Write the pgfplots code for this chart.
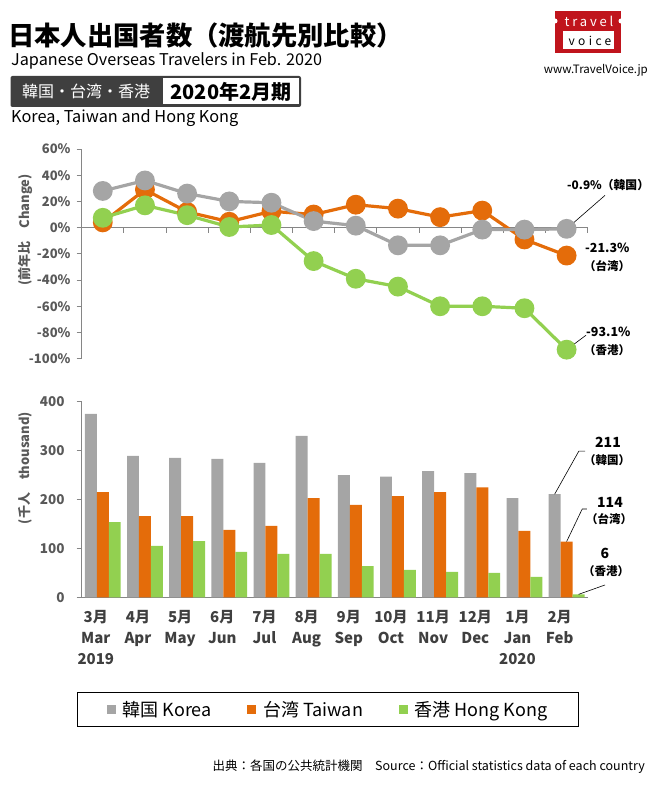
\documentclass[border=0pt]{standalone}
\usepackage{pgfplots}
\pgfplotsset{compat=1.18}
\usepackage{fontspec}
\setmainfont{Noto Sans CJK JP}
\definecolor{kr}{HTML}{A5A5A5}
\definecolor{tw}{HTML}{E46C0A}
\definecolor{hk}{HTML}{92D050}
\definecolor{axgray}{HTML}{868686}
\definecolor{tickgray}{HTML}{595959}
\definecolor{darkbox}{HTML}{3F3F3F}
\definecolor{logored}{HTML}{C0141C}
\begin{document}
\begin{tikzpicture}[x=1pt,y=1pt]
\useasboundingbox (0,0) rectangle (660,-791);
% ---------- header ----------
\node[anchor=west, inner sep=0pt, font=\bfseries\fontsize{26.3}{30}\selectfont] at (8,-36) {日本人出国者数（渡航先別比較）};
\node[anchor=west, inner sep=0pt, font=\fontsize{16.2}{18}\selectfont] at (11,-61) {Japanese Overseas Travelers in Feb. 2020};
\fill[darkbox, rounded corners=2pt] (10.5,-76) rectangle (301,-107);
\fill[white] (163,-78.5) rectangle (298.5,-104.5);
\node[text=white, inner sep=0pt, font=\fontsize{16}{18}\selectfont] at (86,-91.5) {韓国・台湾・香港};
\node[inner sep=0pt, font=\bfseries\fontsize{20}{22}\selectfont] at (231,-91.5) {2020年2月期};
\node[anchor=west, inner sep=0pt, font=\fontsize{16.3}{18}\selectfont] at (11,-118) {Korea, Taiwan and Hong Kong};
% ---------- logo ----------
\fill[logored] (555,-11) rectangle (621,-53);
\fill[white] (563,-31.5) rectangle (614,-49.5);
\fill[white] (555,-21) circle (2.5);
\fill[white] (621,-21) circle (2.5);
\node[text=white, inner sep=0pt, font=\fontsize{13}{13}\selectfont\addfontfeature{LetterSpace=22}] at (589,-21) {travel};
\node[text=black, inner sep=0pt, font=\fontsize{12}{12}\selectfont\addfontfeature{LetterSpace=28}] at (590,-40.5) {voice};
\node[anchor=east, inner sep=0pt, font=\fontsize{11.5}{13}\selectfont] at (648,-70) {www.TravelVoice.jp};
% ---------- y labels ----------
\node[rotate=90, inner sep=0pt, text=tickgray, font=\bfseries\fontsize{13}{13}\selectfont] at (25,-230) {(前年比　Change)};
\node[rotate=90, inner sep=0pt, text=tickgray, font=\bfseries\fontsize{13}{13}\selectfont] at (25,-468) {(千人　thousand)};
% ---------- top chart ----------
\begin{axis}[
  at={(81.7pt,-358.7pt)}, anchor=south west, scale only axis,
  width=506pt, height=209.7pt,
  xmin=0.5, xmax=12.5, ymin=-100, ymax=60,
  axis y line*=left, axis x line*=middle,
  axis line style={draw=axgray, line width=1pt},
  xtick={0.5,1.5,...,12.5}, xticklabels={},
  xtick align=outside, ytick align=outside,
  major tick length=5pt,
  tick style={draw=axgray, line width=0.8pt},
  ytick={-100,-80,-60,-40,-20,0,20,40,60},
  yticklabels={-100\%,-80\%,-60\%,-40\%,-20\%,0\%,20\%,40\%,60\%},
  yticklabel style={text=tickgray, font=\bfseries\fontsize{13}{13}\selectfont, inner sep=0pt, xshift=-6pt},
  clip=false,
]
\addplot[tw, line width=3.2pt, mark=*, mark size=8.3pt, mark options={draw=none, fill=tw}]
 coordinates {(1,4) (2,29) (3,12) (4,4.5) (5,12.5) (6,10) (7,17.5) (8,14.5) (9,8) (10,13) (11,-9) (12,-21.3)};
\addplot[kr, line width=3.2pt, mark=*, mark size=8.3pt, mark options={draw=none, fill=kr}]
 coordinates {(1,28) (2,36) (3,26) (4,20) (5,19) (6,5) (7,1.5) (8,-13.5) (9,-13.5) (10,-1.5) (11,-1.5) (12,-0.9)};
\addplot[hk, line width=3.2pt, mark=*, mark size=8.3pt, mark options={draw=none, fill=hk}]
 coordinates {(1,7.5) (2,17) (3,9.5) (4,0.5) (5,2) (6,-25.5) (7,-39) (8,-45) (9,-60) (10,-60) (11,-61.5) (12,-93.1)};
\draw[black, line width=0.6pt] (axis cs:12,-0.9) -- (axis cs:12.91,24.6);
\draw[black, line width=0.6pt] (axis cs:12,-93.1) -- (axis cs:12.46,-82.1);
\end{axis}
\node[anchor=west, inner sep=0pt, font=\bfseries\fontsize{11.8}{12}\selectfont] at (567,-185) {-0.9\%（韓国）};
\node[anchor=west, inner sep=0pt, font=\bfseries\fontsize{12.5}{12}\selectfont] at (585,-248) {-21.3\%};
\node[anchor=west, inner sep=0pt, font=\bfseries\fontsize{11.5}{12}\selectfont] at (584,-266) {（台湾）};
\node[anchor=west, inner sep=0pt, font=\bfseries\fontsize{12.5}{12}\selectfont] at (586,-332) {-93.1\%};
\node[anchor=west, inner sep=0pt, font=\bfseries\fontsize{11.5}{12}\selectfont] at (584,-350) {（香港）};
% ---------- bottom chart ----------
\begin{axis}[
  at={(81.7pt,-597.3pt)}, anchor=south west, scale only axis,
  width=506pt, height=195.6pt,
  xmin=0.5, xmax=12.5, ymin=0, ymax=400,
  axis y line*=left, axis x line*=bottom,
  axis line style={draw=axgray, line width=1pt},
  ybar=0pt, bar width=0.283,
  xtick={1,...,12},
  xticklabels={{3月\\Mar\\2019},{4月\\Apr},{5月\\May},{6月\\Jun},{7月\\Jul},{8月\\Aug},{9月\\Sep},{10月\\Oct},{11月\\Nov},{12月\\Dec},{1月\\Jan\\2020},{2月\\Feb}},
  xticklabel style={align=center, anchor=north, text=darkbox, font=\bfseries\fontsize{15}{21}\selectfont, inner sep=0pt, yshift=-8pt, xshift=-7pt},
  x tick style={draw=none},
  ytick={0,100,200,300,400},
  yticklabels={0,100,200,300,400},
  ytick align=outside, major tick length=5pt,
  y tick style={draw=axgray, line width=0.8pt},
  yticklabel style={text=tickgray, font=\bfseries\fontsize{13.5}{13}\selectfont, inner sep=0pt, xshift=-12pt},
  clip=false,
  legend columns=3,
  legend style={at={(0.4868,-0.5736)}, anchor=center, draw=black, line width=0.8pt,
    inner xsep=29pt, inner ysep=7pt,
    font=\fontsize{18}{20}\selectfont,
    /tikz/every even column/.append style={column sep=33.5pt},
    /tikz/every odd column/.append style={column sep=5pt}},
  legend image code/.code={\fill[#1] (0pt,-4.5pt) rectangle (9pt,4.5pt);},
]
\addplot[fill=kr, draw=none] coordinates {(1,375) (2,289) (3,285) (4,283) (5,275) (6,330) (7,250) (8,247) (9,258) (10,254) (11,203) (12,211)};
\addplot[fill=tw, draw=none] coordinates {(1,215) (2,166) (3,166) (4,138) (5,146) (6,203) (7,189) (8,207) (9,215) (10,225) (11,136) (12,114)};
\addplot[fill=hk, draw=none] coordinates {(1,154) (2,105) (3,115) (4,93) (5,89) (6,89) (7,64) (8,56) (9,52) (10,50) (11,42) (12,6)};
\legend{韓国 Korea, 台湾 Taiwan, 香港 Hong Kong}
\draw[black, line width=0.6pt] (axis cs:11.717,211) -- (axis cs:12.29,299) -- (axis cs:12.44,299);
\draw[black, line width=0.6pt] (axis cs:12,114) -- (axis cs:12.37,180.6) -- (axis cs:12.48,180.6);
\draw[black, line width=0.6pt] (axis cs:12.283,6) -- (axis cs:12.91,25.2);
\end{axis}
\node[inner sep=0pt, font=\bfseries\fontsize{14}{14}\selectfont] at (608,-442) {211};
\node[inner sep=0pt, font=\bfseries\fontsize{11.5}{12}\selectfont] at (607,-460) {（韓国）};
\node[inner sep=0pt, font=\bfseries\fontsize{14}{14}\selectfont] at (610,-502) {114};
\node[inner sep=0pt, font=\bfseries\fontsize{11.5}{12}\selectfont] at (609,-519) {（台湾）};
\node[inner sep=0pt, font=\bfseries\fontsize{14}{14}\selectfont] at (605,-553) {6};
\node[inner sep=0pt, font=\bfseries\fontsize{11.5}{12}\selectfont] at (606,-571) {（香港）};
% ---------- source ----------
\node[anchor=east, inner sep=0pt, font=\fontsize{12.5}{14}\selectfont] at (645,-767) {出典：各国の公共統計機関　Source：Official statistics data of each country};
\end{tikzpicture}
\end{document}
